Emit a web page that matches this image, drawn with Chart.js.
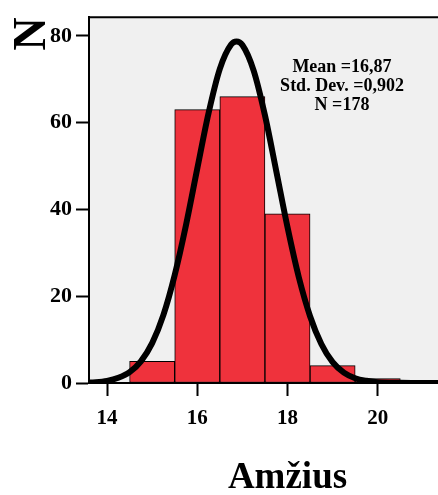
<!DOCTYPE html>
<html lang="en">
<head>
    <meta charset="UTF-8">
    <title>Amžius histogram</title>
    <script src="https://cdn.jsdelivr.net/npm/chart.js"></script>
    <style>
        html, body { margin: 0; padding: 0; background: #fff; overflow: hidden; }
        .wrap { position: relative; width: 486px; height: 495px; }
    </style>
</head>
<body>
    <div class="wrap"><canvas id="hist"></canvas></div>

    <script>
        // histogram bins (centres) and counts
        const binCentres = [15, 16, 17, 18, 19, 20];
        const counts = [5, 63, 66, 39, 4, 1];

        // normal curve
        const curveX = [13.5, 13.75, 14, 14.25, 14.5, 14.75, 15, 15.25, 15.5, 15.75, 16, 16.25, 16.5, 16.75, 16.87,
                        17, 17.25, 17.5, 17.75, 18, 18.25, 18.5, 18.75, 19, 19.25, 19.5, 19.75, 20, 20.5, 21, 22, 22.5];
        const curveY = [0.1, 0.2, 0.5, 1.2, 2.5, 5, 9.2, 15.7, 24.9, 36.4, 49.4, 62.2, 72.4, 78, 78.7,
                        77.9, 72, 61.7, 48.9, 35.9, 24.4, 15.4, 9, 4.8, 2.4, 1.1, 0.5, 0.2, 0.05, 0, 0, 0];

        const xTicks = [14, 16, 18, 20];
        const yTicks = [0, 20, 40, 60, 80];
        const statsLines = ['Mean =16,87', 'Std. Dev. =0,902', 'N =178'];

        const serif = '"Liberation Serif", "Times New Roman", serif';

        // grey plot background, top frame line and the stats box
        const plotExtras = {
            id: 'plotExtras',
            beforeDraw(chart) {
                const { ctx, chartArea: a } = chart;
                ctx.save();
                ctx.fillStyle = '#f0f0f0';
                ctx.fillRect(a.left, a.top, a.right - a.left, a.bottom - a.top);
                ctx.restore();
            },
            afterDraw(chart) {
                const { ctx, chartArea: a } = chart;
                ctx.save();
                ctx.strokeStyle = '#000';
                ctx.lineWidth = 2;
                ctx.beginPath();
                ctx.moveTo(a.left, a.top);
                ctx.lineTo(a.right, a.top);
                ctx.stroke();
                ctx.fillStyle = '#000';
                ctx.font = 'bold 18px ' + serif;
                ctx.textAlign = 'center';
                ctx.textBaseline = 'middle';
                statsLines.forEach((t, i) => ctx.fillText(t, 342, 67 + i * 19));
                ctx.restore();
            }
        };

        new Chart(document.getElementById('hist'), {
            data: {
                datasets: [{
                    type: 'line',
                    data: curveX.map((x, i) => ({ x: x, y: curveY[i] })),
                    borderColor: '#000',
                    borderWidth: 6,
                    pointRadius: 0,
                    cubicInterpolationMode: 'monotone',
                    order: 0
                }, {
                    type: 'bar',
                    data: binCentres.map((x, i) => ({ x: x, y: counts[i] })),
                    backgroundColor: '#ef323c',
                    borderColor: '#000',
                    borderWidth: 1,
                    borderSkipped: false,
                    barPercentage: 1,
                    categoryPercentage: 1,
                    order: 1
                }]
            },
            options: {
                responsive: true,
                maintainAspectRatio: false,
                animation: false,
                layout: { padding: { top: 14, left: 0, right: 0, bottom: 0 } },
                plugins: { legend: { display: false }, tooltip: { enabled: false } },
                scales: {
                    x: {
                        type: 'linear',
                        offset: false,
                        min: 13.6,
                        max: 22.4,
                        afterBuildTicks: s => { s.ticks = xTicks.map(v => ({ value: v })); },
                        afterFit: s => { s.height = 112; },
                        grid: { offset: false, drawOnChartArea: false, tickLength: 13, tickColor: '#000', tickWidth: 2 },
                        border: { color: '#000', width: 2 },
                        ticks: { color: '#000', padding: 10, font: { family: serif, size: 21, weight: 'bold' } },
                        title: {
                            display: true,
                            text: 'Amžius',
                            color: '#000',
                            padding: { top: 0, bottom: -6 },
                            font: { family: serif, size: 37, weight: 'bold' }
                        }
                    },
                    y: {
                        min: 0,
                        max: 84.3,
                        afterBuildTicks: s => { s.ticks = yTicks.map(v => ({ value: v })); },
                        afterFit: s => { s.width = 89; },
                        grid: { drawOnChartArea: false, tickLength: 13, tickColor: '#000', tickWidth: 2 },
                        border: { color: '#000', width: 2 },
                        ticks: { color: '#000', padding: 4, font: { family: serif, size: 22, weight: 'bold' } },
                        title: {
                            display: true,
                            text: 'N',
                            align: 'end',
                            color: '#000',
                            padding: { top: 6, bottom: 0 },
                            font: { family: serif, size: 46, weight: 'bold' }
                        }
                    }
                }
            },
            plugins: [plotExtras]
        });
    </script>
</body>
</html>
